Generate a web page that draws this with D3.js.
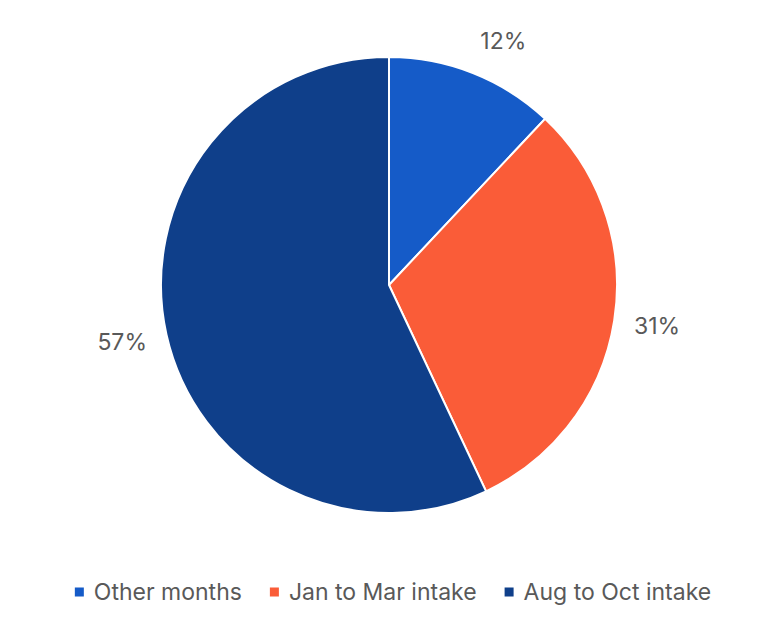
<!DOCTYPE html>
<html lang="en">
<head>
    <meta charset="UTF-8">
    <title>Intake share</title>
    <script src="https://d3js.org/d3.v7.min.js"></script>
    <style>
        body {
            margin: 0;
            padding: 0;
            background: #fff;
            font-family: "Inter", "Open Sans", sans-serif;
        }
        text {
            fill: #595959;
            font-size: 23px;
        }
    </style>
</head>
<body>
    <script>
        // values (percent)
        const categories = ['Other months', 'Jan to Mar intake', 'Aug to Oct intake'];
        const values = [12, 31, 57];
        const colors = ['#155bc8', '#fa5c38', '#0f3f8a'];

        const width = 778, height = 633;
        const cx = 389, cy = 285, radius = 228;

        const svg = d3.select('body').append('svg')
            .attr('width', width)
            .attr('height', height);

        const pie = d3.pie().sort(null).value(d => d)(values);
        const arc = d3.arc().innerRadius(0).outerRadius(radius);

        const g = svg.append('g').attr('transform', `translate(${cx},${cy})`);

        g.selectAll('path')
            .data(pie)
            .enter().append('path')
            .attr('d', arc)
            .attr('fill', (d, i) => colors[i])
            .attr('stroke', '#fff')
            .attr('stroke-width', 2);

        // outside labels, box corner nudged off the rim
        const gap = 20;
        g.selectAll('text.lbl')
            .data(pie)
            .enter().append('text')
            .attr('class', 'lbl')
            .attr('text-anchor', 'middle')
            .attr('dominant-baseline', 'central')
            .text(d => d.data + '%')
            .each(function(d) {
                const a = (d.startAngle + d.endAngle) / 2;
                const bb = this.getBBox();
                const hw = bb.width / 2, hh = bb.height / 2;
                const r = radius + gap;
                const x = r * Math.sin(a) + hw * Math.sign(Math.sin(a));
                const y = -r * Math.cos(a) - hh * Math.cos(a);
                d3.select(this).attr('x', x).attr('y', y);
            });

        // legend
        const legendY = 592, box = 9, boxGap = 10, itemGap = 28;
        const legend = svg.append('g');
        let lx = 0;
        categories.forEach((c, i) => {
            const item = legend.append('g').attr('transform', `translate(${lx},0)`);
            item.append('rect')
                .attr('x', 0)
                .attr('y', legendY - box / 2)
                .attr('width', box)
                .attr('height', box)
                .attr('fill', colors[i]);
            const t = item.append('text')
                .attr('x', box + boxGap)
                .attr('y', legendY)
                .attr('dominant-baseline', 'central')
                .text(c);
            lx += box + boxGap + t.node().getComputedTextLength() + itemGap;
        });
        const total = lx - itemGap;
        legend.attr('transform', `translate(${393 - total / 2},0)`);
    </script>
</body>
</html>
